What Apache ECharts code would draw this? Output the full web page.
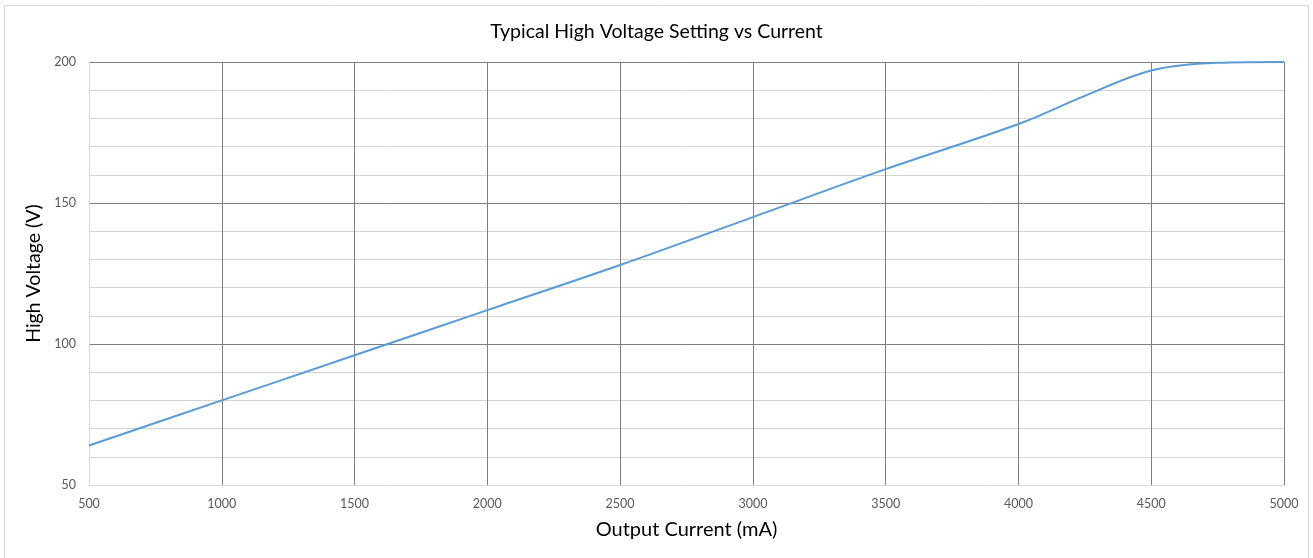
<!DOCTYPE html>
<html><head><meta charset="utf-8">
<script src="https://cdn.jsdelivr.net/npm/echarts@6/dist/echarts.min.js"></script>
<style>html,body{margin:0;padding:0;background:#fff}#c{width:1313px;height:558px}</style>
</head><body><div id="c"></div>
<script>
const currentMA = [500, 1000, 1500, 2000, 2500, 3000, 3500, 4000, 4250, 4500, 4750, 5000];
const voltageV = [64, 80, 96, 112, 128, 145, 162, 178, 188, 197, 199.7, 200];
const titleText = 'Typical High Voltage Setting vs Current';
const xName = 'Output Current (mA)';
const yName = 'High Voltage (V)';

const chart = echarts.init(document.getElementById('c'));
const F = 'Lato';
chart.setOption({
  animation: false,
  title: { text: titleText, left: 'center', top: 17, textStyle: { fontFamily: F, fontSize: 19.5, fontWeight: 'normal', color: '#000' } },
  graphic: [{ type: 'rect', shape: { x: 4.5, y: 5.5, width: 1304, height: 560 }, style: { fill: 'none', stroke: '#d9d9d9', lineWidth: 1 }, silent: true }],
  grid: { left: 89, right: 29, top: 62, bottom: 73 },
  xAxis: {
    type: 'value', min: 500, max: 5000, interval: 500,
    name: xName, nameLocation: 'middle', nameGap: 35,
    nameTextStyle: { fontFamily: F, fontSize: 20, color: '#000' },
    axisLine: { show: true, lineStyle: { color: '#d9d9d9', width: 1 } },
    axisTick: { show: false },
    axisLabel: { fontFamily: F, fontSize: 12.5, color: '#595959', margin: 12, formatter: v => String(v) },
    splitLine: { show: true, showMinLine: false, lineStyle: { color: '#7f7f7f', width: 1 } }
  },
  yAxis: {
    type: 'value', min: 50, max: 200, interval: 50,
    name: yName, nameLocation: 'middle', nameGap: 43, nameRotate: 90,
    nameTextStyle: { fontFamily: F, fontSize: 19.5, color: '#000' },
    axisLine: { show: true, lineStyle: { color: '#d9d9d9', width: 1 } },
    axisTick: { show: false },
    axisLabel: { fontFamily: F, fontSize: 12.5, color: '#595959', margin: 13, formatter: v => String(v) },
    splitLine: { show: true, showMinLine: false, lineStyle: { color: '#7f7f7f', width: 1 } },
    minorTick: { show: false, splitNumber: 5 },
    minorSplitLine: { show: true, lineStyle: { color: '#d4d4d4', width: 1 } }
  },
  series: [{
    type: 'line', data: currentMA.map((x, i) => [x, voltageV[i]]),
    smooth: 0.35, showSymbol: false,
    lineStyle: { color: '#5b9bd5', width: 2 }
  }]
});
</script></body></html>
